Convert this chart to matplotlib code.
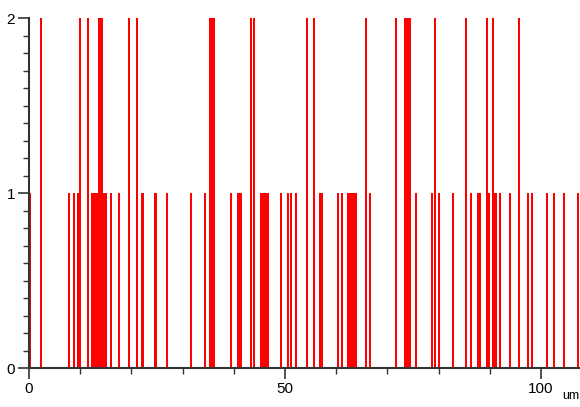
import matplotlib
matplotlib.use("Agg")
import matplotlib.pyplot as plt
from matplotlib.ticker import MultipleLocator

# positions (um) and counts
pos = [0.2, 2.3, 7.8, 8.8, 9.6, 10.0, 11.6,
       12.4, 12.8, 13.2, 13.6, 14.0, 14.3, 14.6, 15.0,
       16.0, 17.6, 19.6, 21.0, 22.0, 22.3, 24.7, 27.0, 31.6, 34.4,
       35.4, 35.8, 36.2, 39.5, 40.9, 41.3, 43.4, 43.9,
       45.4, 45.8, 46.2, 46.7, 49.2, 50.6, 51.1, 52.1, 54.2, 55.7,
       56.8, 57.3, 60.3, 61.1, 62.3, 62.7, 63.1, 63.5, 63.9, 65.8, 66.6,
       71.6, 73.5, 73.9, 74.3, 75.5, 78.7, 79.2, 80.1, 82.8, 85.3, 86.3,
       87.7, 88.1, 89.4, 89.9, 90.7, 91.1, 91.9, 93.9, 95.6, 97.4, 98.2,
       101.1, 102.5, 104.5, 107.2]
counts = [1, 2, 1, 1, 1, 2, 2,
          1, 1, 1, 2, 2, 2, 1, 1,
          1, 1, 2, 2, 1, 1, 1, 1, 1, 1,
          2, 2, 2, 1, 1, 1, 2, 2,
          1, 1, 1, 1, 1, 1, 1, 1, 2, 2,
          1, 1, 1, 1, 1, 1, 1, 1, 1, 2, 1,
          2, 2, 2, 2, 1, 1, 2, 1, 1, 2, 1,
          1, 1, 2, 1, 2, 1, 1, 1, 2, 1, 1,
          1, 1, 1, 1]

plt.rcParams['font.family'] = ['Liberation Sans', 'DejaVu Sans']

fig = plt.figure(figsize=(5.8, 4.07), dpi=100)
ax = fig.add_axes([0.05, 0.0958, 0.95, 0.8598])

ax.bar(pos, counts, width=0.4, color='#ff0000', linewidth=0)

ax.set_xlim(0, 107.6)
ax.set_ylim(0, 2)
ax.set_xticks([0, 50, 100])
ax.set_yticks([0, 1, 2])
ax.xaxis.set_minor_locator(MultipleLocator(10))
ax.yaxis.set_minor_locator(MultipleLocator(0.1))
ax.tick_params(which='major', length=8, width=1.2, labelsize=11, pad=2, color='#333333')
ax.tick_params(which='minor', length=4, width=1.0, color='#333333')

for s in ['top', 'right']:
    ax.spines[s].set_visible(False)
for s in ['left', 'bottom']:
    ax.spines[s].set_linewidth(1.5)
    ax.spines[s].set_color('#333333')

fig.text(0.985, 0.012, "um", fontsize=9, ha='center', va='bottom')

fig.savefig("out.png", dpi=100)
